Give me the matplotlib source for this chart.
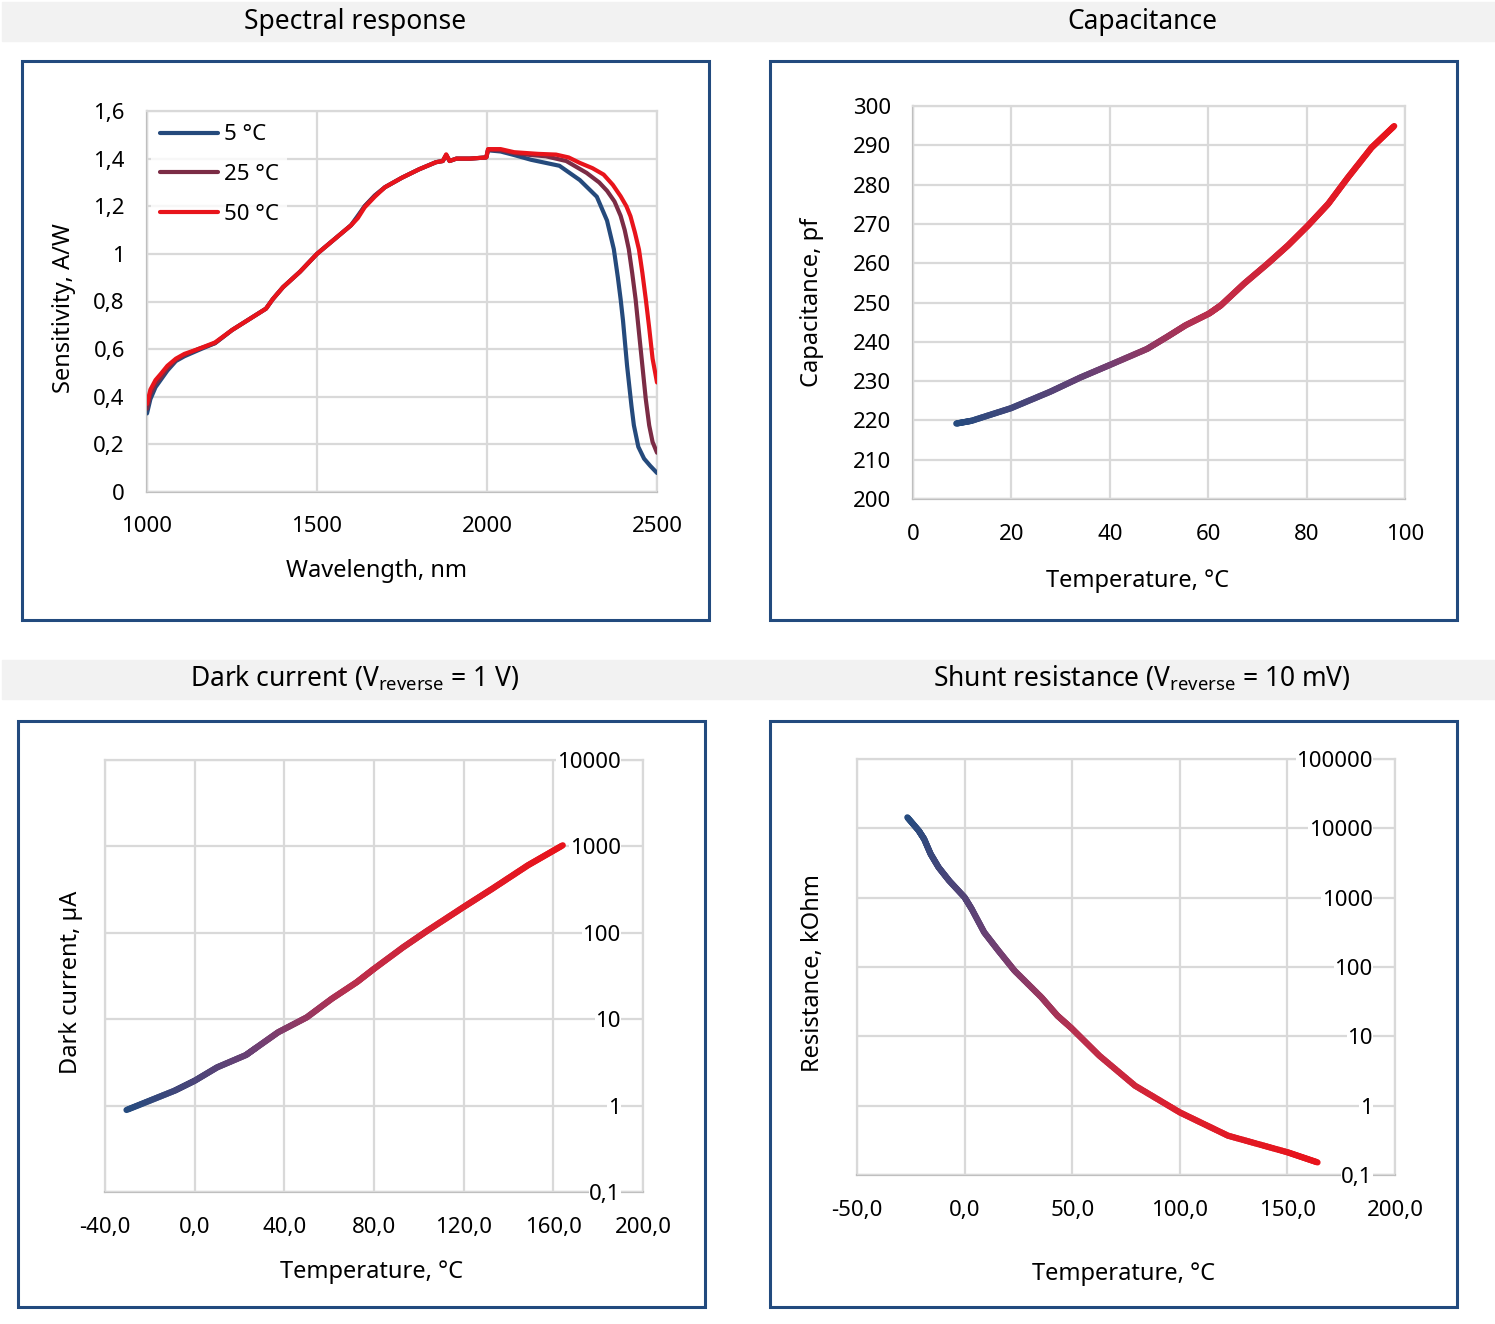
import numpy as np
import matplotlib
matplotlib.use('Agg')
import matplotlib.pyplot as plt
from matplotlib.collections import LineCollection
from matplotlib.patches import Rectangle
from matplotlib.colors import LinearSegmentedColormap

plt.rcParams['font.family'] = ['Noto Sans', 'DejaVu Sans']

W, H = 1495, 1324

# ---- spectral response ----
wl_head = [1000, 1010, 1025, 1040, 1060, 1085, 1110, 1150, 1200, 1250, 1300, 1350, 1370,
           1400, 1450, 1500, 1550, 1600, 1620, 1640, 1670, 1700, 1750, 1800, 1850, 1870, 1880,
           1890, 1910, 1950, 1998, 2003, 2040]
sens_head_5 = [0.33, 0.39, 0.44, 0.47, 0.51, 0.55, 0.57, 0.595, 0.625, 0.68, 0.725, 0.77, 0.81,
               0.86, 0.925, 1.0, 1.06, 1.12, 1.16, 1.2, 1.245, 1.28, 1.32, 1.355, 1.385, 1.39,
               1.415, 1.39, 1.4, 1.4, 1.405, 1.435, 1.43]
sens_head_25 = [0.35, 0.41, 0.455, 0.48, 0.52, 0.555, 0.575, 0.6, 0.625, 0.68, 0.725, 0.77, 0.81,
                0.86, 0.925, 1.0, 1.06, 1.12, 1.155, 1.2, 1.245, 1.28, 1.32, 1.355, 1.385, 1.39,
                1.415, 1.39, 1.4, 1.4, 1.405, 1.437, 1.435]
sens_head_50 = [0.37, 0.43, 0.47, 0.495, 0.53, 0.56, 0.58, 0.6, 0.628, 0.68, 0.725, 0.77, 0.81,
                0.86, 0.925, 1.0, 1.06, 1.12, 1.15, 1.195, 1.24, 1.28, 1.32, 1.355, 1.385, 1.39,
                1.418, 1.39, 1.4, 1.4, 1.405, 1.44, 1.44]
wl_tail_5 = [2080, 2130, 2213, 2273, 2323, 2353, 2373, 2385, 2393, 2400, 2412, 2425, 2432,
             2445, 2462, 2480, 2500]
sens_tail_5 = [1.415, 1.395, 1.37, 1.31, 1.24, 1.14, 1.02, 0.9, 0.81, 0.72, 0.53, 0.36, 0.28,
               0.19, 0.14, 0.11, 0.08]
wl_tail_25 = [2080, 2130, 2173, 2233, 2293, 2330, 2353, 2375, 2393, 2405, 2417, 2427, 2437,
              2447, 2457, 2467, 2477, 2487, 2500]
sens_tail_25 = [1.423, 1.415, 1.41, 1.39, 1.34, 1.3, 1.265, 1.22, 1.16, 1.1, 1.02, 0.92, 0.81,
                0.67, 0.53, 0.39, 0.28, 0.21, 0.165]
wl_tail_50 = [2080, 2150, 2203, 2240, 2273, 2310, 2343, 2370, 2393, 2410, 2422, 2435, 2447,
              2457, 2467, 2477, 2487, 2500]
sens_tail_50 = [1.427, 1.42, 1.417, 1.405, 1.382, 1.36, 1.333, 1.29, 1.242, 1.2, 1.158, 1.09,
                1.018, 0.92, 0.81, 0.69, 0.56, 0.46]
spec_labels = ['5 °C', '25 °C', '50 °C']
spec_colors = ['#254a7c', '#7b2c45', '#e8141b']

# ---- capacitance ----
cap_t = [8.8, 11.9, 19.9, 27.9, 34.0, 40.0, 47.6, 51.7, 55.4, 60.2, 62.6, 67.3, 72.1, 76.2,
         80.3, 84.4, 88.4, 93.2, 97.8]
cap_pf = [219.2, 219.9, 223.1, 227.3, 230.9, 234.1, 238.2, 241.3, 244.2, 247.2, 249.3, 254.8,
          259.9, 264.5, 269.6, 275.1, 281.8, 289.4, 294.9]

# ---- dark current ----
dc_t = [-30.4, -8.9, 0.0, 10.0, 22.9, 27.7, 37.2, 50.0, 61.1, 72.3, 80.0, 93.0, 104.1, 120.0,
        132.8, 148.7, 164.2]
dc_ua = [0.89, 1.49, 1.94, 2.77, 3.85, 4.72, 7.05, 10.5, 17.2, 26.8, 38.3, 68, 107, 199, 324,
         605, 1030]

# ---- shunt resistance ----
sr_t = [-26.6, -21.3, -18.8, -15.8, -12.1, -7.2, 0.0, 3.3, 9.1, 15.7, 23.2, 35.7, 43.1, 49.8,
        62.6, 79.2, 100.0, 122.4, 150.2, 164.0]
sr_kohm = [14400, 9250, 7010, 4270, 2740, 1760, 1010, 687, 316, 172, 88.5, 36.5, 19.9, 13.0,
           5.26, 1.94, 0.80, 0.369, 0.212, 0.152]

log_ticks = [0.1, 1, 10, 100, 1000, 10000, 100000]
log_labels = ['0,1', '1', '10', '100', '1000', '10000', '100000']

GRID = '#d9d9d9'
AXC = '#bfbfbf'
FRAME = '#224a7e'
GRAD = LinearSegmentedColormap.from_list(
    'bluered', [(0, '#264b7f'), (0.3, '#733f72'), (0.5, '#b8304f'), (0.72, '#dc1f2e'),
                (1, '#e8131b')])
FS = 16
LFS = 17
TFS = 19


def fx(px):
    return px / W


def fy(py):
    return 1 - py / H


def make_axes(fig, x0, y0, x1, y1):
    ax = fig.add_axes([fx(x0), fy(y1), fx(x1) - fx(x0), fy(y0) - fy(y1)])
    ax.grid(True, color=GRID, lw=1.6)
    ax.set_axisbelow(True)
    for s in ax.spines.values():
        s.set_color(GRID)
        s.set_linewidth(1.6)
        s.set_zorder(0.4)
    ax.spines['bottom'].set_color(AXC)
    ax.tick_params(length=0, labelsize=FS, colors='black')
    return ax


def gradient_line(ax, x, y, logy=False, lw=4.5, n=20):
    # colour runs along the drawn length of the curve (call after limits are set)
    x = np.asarray(x, float)
    y = np.asarray(y, float)
    yy = np.log10(y) if logy else y
    xs, ys = [x[0]], [yy[0]]
    for i in range(len(x) - 1):
        f = np.linspace(0, 1, n + 1)[1:]
        xs.extend(x[i] + (x[i + 1] - x[i]) * f)
        ys.extend(yy[i] + (yy[i + 1] - yy[i]) * f)
    xs = np.array(xs)
    ys = np.array(ys)
    if logy:
        ys = 10 ** ys
    pts = np.column_stack([xs, ys])
    disp = ax.transData.transform(pts)
    d = np.r_[0, np.cumsum(np.hypot(*np.diff(disp, axis=0).T))]
    frac = d[:-1] / d[-1]
    pts = pts.reshape(-1, 1, 2)
    segs = np.concatenate([pts[:-1], pts[1:]], axis=1)
    lc = LineCollection(segs, colors=GRAD(frac), linewidths=lw, capstyle='round',
                        joinstyle='round', zorder=3)
    ax.add_collection(lc)


def comma(v, dec):
    return ('{:.%df}' % dec).format(v).replace('.', ',')


fig = plt.figure(figsize=(W / 100, H / 100), dpi=100)

# header bands and panel frames
for (y0, y1) in [(2, 41), (660, 699)]:
    fig.patches.append(Rectangle((fx(2), fy(y1)), fx(1495) - fx(2), fy(y0) - fy(y1),
                                 transform=fig.transFigure, color='#f2f2f2', zorder=0))
for (x0, y0, x1, y1) in [(22, 61, 709, 620), (770, 61, 1457, 620),
                         (18, 721, 705, 1307), (770, 721, 1457, 1307)]:
    fig.patches.append(Rectangle((fx(x0), fy(y1)), fx(x1) - fx(x0), fy(y0) - fy(y1),
                                 transform=fig.transFigure, fill=False, ec=FRAME, lw=2.2,
                                 zorder=0))

fig.text(fx(355), fy(22), 'Spectral response', ha='center', va='center', fontsize=TFS)
fig.text(fx(1142), fy(22), 'Capacitance', ha='center', va='center', fontsize=TFS)
fig.text(fx(355), fy(679), 'Dark current (V$_{\\mathregular{reverse}}$ = 1 V)',
         ha='center', va='center', fontsize=TFS)
fig.text(fx(1142), fy(679), 'Shunt resistance (V$_{\\mathregular{reverse}}$ = 10 mV)',
         ha='center', va='center', fontsize=TFS)


def place_labels(ax, xl, yl):
    ax.xaxis.set_label_coords(fx(xl[0]), fy(xl[1]), transform=fig.transFigure)
    ax.xaxis.label.set_va('center')
    ax.yaxis.set_label_coords(fx(yl[0]), fy(yl[1]), transform=fig.transFigure)
    ax.yaxis.label.set_va('center')


def right_log_labels(ax):
    ax.minorticks_off()
    ax.yaxis.set_ticks_position('right')
    ax.tick_params(axis='y', labelleft=False, labelright=True, pad=-16)
    for t in ax.get_yticklabels():
        t.set_ha('right')
        t.set_bbox(dict(facecolor='white', edgecolor='none', pad=0.5))
    ax.yaxis.set_label_position('left')


# ---- top left: spectral response ----
ax = make_axes(fig, 147, 111, 657, 492)
ax.spines['left'].set_color(AXC)
ax.plot(wl_head + wl_tail_5, sens_head_5 + sens_tail_5, color=spec_colors[0], lw=3,
        label=spec_labels[0], solid_capstyle='round')
ax.plot(wl_head + wl_tail_25, sens_head_25 + sens_tail_25, color=spec_colors[1], lw=3,
        label=spec_labels[1], solid_capstyle='round')
ax.plot(wl_head + wl_tail_50, sens_head_50 + sens_tail_50, color=spec_colors[2], lw=3,
        label=spec_labels[2], solid_capstyle='round')
ax.set_xlim(1000, 2500)
ax.set_ylim(0, 1.6)
ax.set_xticks([1000, 1500, 2000, 2500])
yt = [0, 0.2, 0.4, 0.6, 0.8, 1.0, 1.2, 1.4, 1.6]
ax.set_yticks(yt)
ax.set_yticklabels([('%g' % v).replace('.', ',') for v in yt])
ax.tick_params(axis='y', pad=16)
ax.tick_params(axis='x', pad=17.5)
ax.set_xlabel('Wavelength, nm', fontsize=LFS)
ax.set_ylabel('Sensitivity, A/W', fontsize=LFS)
place_labels(ax, (377, 571), (64, 308))
leg = ax.legend(loc='upper left', bbox_to_anchor=(0.0, 1.0), fontsize=FS, frameon=True,
                handlelength=2.6, handletextpad=0.25, labelspacing=0.85, borderaxespad=0.2,
                borderpad=0.4)
leg.get_frame().set_facecolor('white')
leg.get_frame().set_edgecolor('none')
leg.get_frame().set_alpha(0.8)
for h in leg.get_lines():
    h.set_linewidth(3)

# ---- top right: capacitance ----
ax = make_axes(fig, 913, 106, 1405, 499)
ax.spines['left'].set_color(AXC)
ax.set_xlim(0, 100)
ax.set_ylim(200, 300)
gradient_line(ax, cap_t, cap_pf, lw=4.5)
ax.set_xticks(np.arange(0, 101, 20))
ax.set_yticks(np.arange(200, 301, 10))
ax.tick_params(axis='y', pad=16)
ax.tick_params(axis='x', pad=18)
ax.set_xlabel('Temperature, °C', fontsize=LFS)
ax.set_ylabel('Capacitance, pf', fontsize=LFS)
place_labels(ax, (1138, 581), (812, 302))

# ---- bottom left: dark current ----
ax = make_axes(fig, 105, 760, 643, 1192)
ax.set_yscale('log')
ax.set_xlim(-40, 200)
ax.set_ylim(0.1, 10000)
gradient_line(ax, dc_t, dc_ua, logy=True, lw=4.5)
xt = np.arange(-40, 201, 40)
ax.set_xticks(xt)
ax.set_xticklabels([comma(v, 1) for v in xt])
ax.set_yticks(log_ticks[:6])
ax.set_yticklabels(log_labels[:6])
right_log_labels(ax)
ax.tick_params(axis='x', pad=18)
ax.set_xlabel('Temperature, °C', fontsize=LFS)
ax.set_ylabel('Dark current, µA', fontsize=LFS)
place_labels(ax, (372, 1272), (71, 982))

# ---- bottom right: shunt resistance ----
ax = make_axes(fig, 857, 759, 1395, 1175)
ax.set_yscale('log')
ax.set_xlim(-50, 200)
ax.set_ylim(0.1, 100000)
gradient_line(ax, sr_t, sr_kohm, logy=True, lw=4.5)
xt = np.arange(-50, 201, 50)
ax.set_xticks(xt)
ax.set_xticklabels([comma(v, 1) for v in xt])
ax.set_yticks(log_ticks)
ax.set_yticklabels(log_labels)
right_log_labels(ax)
ax.tick_params(axis='x', pad=18)
ax.set_xlabel('Temperature, °C', fontsize=LFS)
ax.set_ylabel('Resistance, kOhm', fontsize=LFS)
place_labels(ax, (1124, 1274), (813, 973))

fig.savefig('out.png', dpi=100)
